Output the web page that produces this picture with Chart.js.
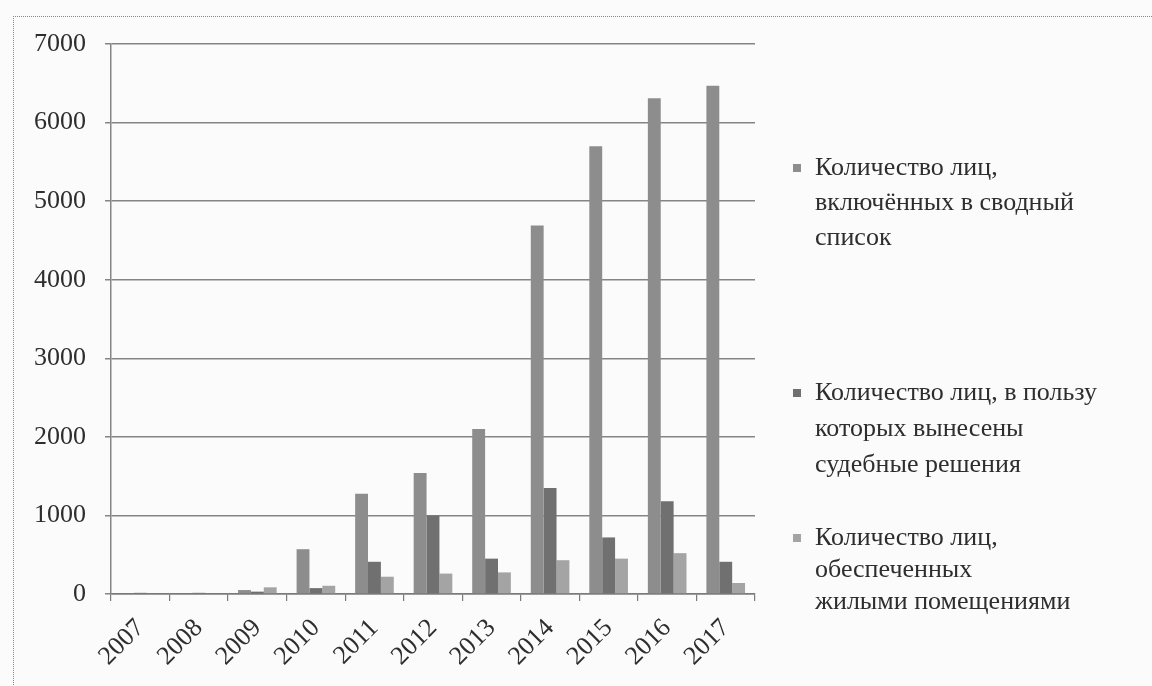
<!DOCTYPE html>
<html>
<head>
<meta charset="utf-8">
<script src="https://cdn.jsdelivr.net/npm/chart.js@4"></script>
<style>
    html, body { margin: 0; padding: 0; background: #fbfbfb; }
    #wrap { position: relative; width: 1152px; height: 686px; overflow: hidden; }
    #frame { position: absolute; left: 13px; top: 16px; width: 1200px; height: 700px;
             border-left: 1px dotted #888; border-top: 1px dotted #888; }
    canvas { position: absolute; left: 0; top: 0; }
</style>
</head>
<body>
<div id="wrap">
    <div id="frame"></div>
    <canvas id="chart" width="1152" height="686"></canvas>
</div>
<script>
// data
const years = ['2007', '2008', '2009', '2010', '2011', '2012', '2013', '2014', '2015', '2016', '2017'];
const inList = [0, 0, 50, 570, 1275, 1540, 2100, 4690, 5700, 6310, 6470];
const courtDecisions = [15, 15, 30, 75, 410, 1000, 450, 1350, 720, 1180, 410];
const housed = [0, 0, 85, 105, 220, 260, 275, 430, 450, 520, 140];
const yTicks = [0, 1000, 2000, 3000, 4000, 5000, 6000, 7000];

const legendLines = [
    ['Количество лиц,', 'включённых в сводный', 'список'],
    ['Количество лиц, в пользу', 'которых вынесены', 'судебные решения'],
    ['Количество лиц,', 'обеспеченных', 'жилыми помещениями']
];
const colors = ['#8d8d8d', '#707070', '#a4a4a4'];

const serif = '"Liberation Serif", "DejaVu Serif", serif';

// legend is drawn by hand so lines can wrap like the original
const sideLegend = {
    id: 'sideLegend',
    afterDraw(chart) {
        const ctx = chart.ctx;
        const firstLines = [168, 393, 538];
        const lineGap = [35, 36, 32];
        ctx.save();
        ctx.font = '26px ' + serif;
        ctx.textBaseline = 'middle';
        chart.data.datasets.forEach((ds, i) => {
            const y0 = firstLines[i];
            ctx.fillStyle = ds.backgroundColor;
            ctx.fillRect(793, y0 - 4, 8, 8);
            ctx.fillStyle = '#2e2e2e';
            legendLines[i].forEach((line, j) => {
                ctx.fillText(line, 815, y0 + j * lineGap[i]);
            });
        });
        ctx.restore();
    }
};

const barOpts = { categoryPercentage: 0.66, barPercentage: 1.0, borderWidth: 0 };

const ctx = document.getElementById('chart').getContext('2d');
new Chart(ctx, {
    type: 'bar',
    data: {
        labels: years,
        datasets: [
            { label: legendLines[0].join(' '), data: inList, backgroundColor: colors[0], ...barOpts },
            { label: legendLines[1].join(' '), data: courtDecisions, backgroundColor: colors[1], ...barOpts },
            { label: legendLines[2].join(' '), data: housed, backgroundColor: colors[2], ...barOpts }
        ]
    },
    options: {
        responsive: false,
        animation: false,
        layout: { padding: { top: 44, right: 397, left: 0, bottom: 0 } },
        plugins: { legend: { display: false }, tooltip: { enabled: false } },
        scales: {
            x: {
                afterFit: s => { s.height = 92; },
                grid: { offset: true, drawOnChartArea: false, tickLength: 7, color: '#7a7a7a', lineWidth: 1.2 },
                border: { color: '#7a7a7a', width: 1.5 },
                ticks: {
                    color: '#2e2e2e', font: { family: serif, size: 26 },
                    minRotation: 45, maxRotation: 45, padding: 12, autoSkip: false
                }
            },
            y: {
                min: 0, max: 7000,
                afterFit: s => { s.width = 111; },
                afterBuildTicks: s => { s.ticks = yTicks.map(v => ({ value: v })); },
                grid: { color: '#858585', lineWidth: 1.5, tickLength: 6 },
                border: { color: '#858585', width: 1.5 },
                ticks: {
                    color: '#2e2e2e', font: { family: serif, size: 26 }, padding: 19,
                    callback: v => String(v)
                }
            }
        }
    },
    plugins: [sideLegend]
});
</script>
</body>
</html>
